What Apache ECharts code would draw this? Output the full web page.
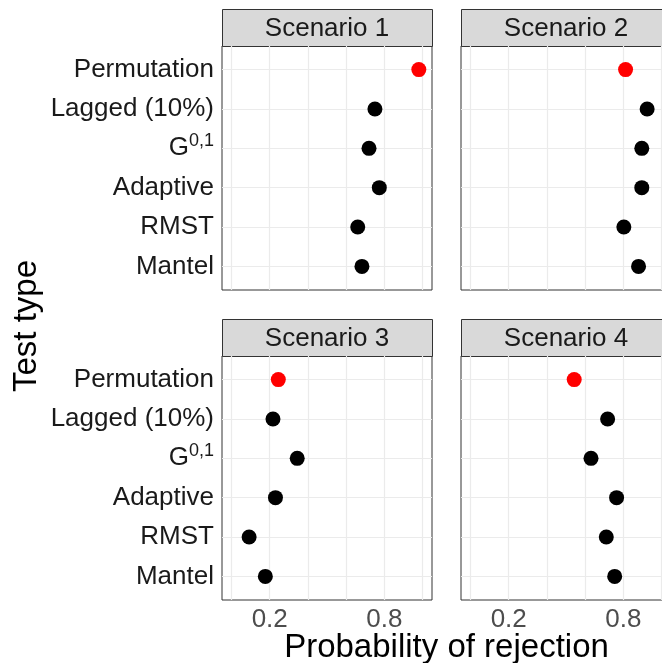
<!DOCTYPE html>
<html><head><meta charset="utf-8">
<script src="https://cdn.jsdelivr.net/npm/echarts@6/dist/echarts.min.js"></script>
<style>html,body{margin:0;padding:0;background:#fff}#c{width:662px;height:663px}</style>
</head><body><div id="c"></div>
<script>
// ---- data ----
const categories = ['Permutation', 'Lagged (10%)', 'G0,1', 'Adaptive', 'RMST', 'Mantel'];
const scenarios = ['Scenario 1', 'Scenario 2', 'Scenario 3', 'Scenario 4'];
const scenario1 = [0.981, 0.751, 0.720, 0.774, 0.661, 0.683];
const scenario2 = [0.812, 0.925, 0.897, 0.897, 0.803, 0.880];
const scenario3 = [0.245, 0.217, 0.344, 0.230, 0.092, 0.177];
const scenario4 = [0.543, 0.718, 0.631, 0.765, 0.711, 0.755];
const xTickLabels = [0.2, 0.8];
const xGridValues = [0, 0.2, 0.4, 0.6, 0.8, 1.0];
const xTitle = 'Probability of rejection';
const yTitle = 'Test type';

const values = [scenario1, scenario2, scenario3, scenario4];
const FONT = '"Liberation Sans", Arial, sans-serif';

// ---- layout ----
const L = [222, 461], T = [46, 356], W = 210, H = 244, SH = 37;
const grids = [], xAxes = [], yAxes = [], series = [], graphics = [];
const catIdx = categories.map((_, i) => i);

for (let p = 0; p < 4; p++) {
  const col = p % 2, row = Math.floor(p / 2);
  grids.push({ left: L[col], top: T[row], width: W, height: H, show: true,
    borderColor: '#333333', borderWidth: 1, backgroundColor: '#ffffff',
    containLabel: false, outerBoundsMode: 'none' });
  xAxes.push({ gridIndex: p, type: 'value', min: -0.05, max: 1.05,
    splitLine: { show: false }, axisLine: { show: false },
    axisTick: { show: row === 1, customValues: xTickLabels, length: 3, lineStyle: { color: '#333333' } },
    axisLabel: { show: row === 1, customValues: xTickLabels, fontSize: 26, color: '#4d4d4d',
      fontFamily: FONT, margin: 7, formatter: v => String(v) } });
  yAxes.push({ gridIndex: p, type: 'value', inverse: true, min: -0.6, max: 5.6,
    splitLine: { show: false }, axisLine: { show: false },
    axisTick: { show: col === 0, customValues: catIdx, length: 3, lineStyle: { color: '#333333' } },
    axisLabel: { show: col === 0, customValues: catIdx, fontSize: 26, color: '#1a1a1a', fontFamily: FONT, margin: 8,
      formatter: v => { const n = categories[Math.round(v)]; return n === 'G0,1' ? '{g|G}{s|0,1}' : n; },
      rich: { g: { fontSize: 26, color: '#1a1a1a', fontFamily: FONT },
              s: { fontSize: 18, color: '#1a1a1a', fontFamily: FONT, padding: [0, 0, 14, 0] } } } });
  // grid lines
  series.push({ type: 'scatter', xAxisIndex: p, yAxisIndex: p, data: [], silent: true,
    markLine: { silent: true, symbol: 'none', label: { show: false }, animation: false,
      lineStyle: { color: '#ebebeb', width: 1.2, type: 'solid' },
      data: xGridValues.map(v => ({ xAxis: v })).concat(catIdx.map(i => ({ yAxis: i }))) } });
  // points
  series.push({ type: 'scatter', xAxisIndex: p, yAxisIndex: p, z: 10, symbolSize: 15, animation: false,
    itemStyle: { opacity: 1 },
    data: values[p].map((v, i) => ({ value: [v, i], itemStyle: { color: i === 0 ? '#ff0000' : '#000000', opacity: 1 } })) });
  // strip
  graphics.push({ type: 'rect', shape: { x: L[col] + 0.5, y: T[row] - SH + 0.5, width: W, height: SH },
    style: { fill: '#d9d9d9', stroke: '#333333', lineWidth: 1 } });
  graphics.push({ type: 'text', x: L[col] + W / 2, y: T[row] - SH / 2 + 1,
    style: { text: scenarios[p], font: '26px ' + FONT, fill: '#1a1a1a', textAlign: 'center', textVerticalAlign: 'middle' } });
}
graphics.push({ type: 'text', x: (L[0] + L[1] + W) / 2, y: 648,
  style: { text: xTitle, font: '33px ' + FONT, fill: '#000000', textAlign: 'center', textVerticalAlign: 'middle' } });
graphics.push({ type: 'text', x: 27, y: 326, rotation: Math.PI / 2,
  style: { text: yTitle, font: '33px ' + FONT, fill: '#000000', textAlign: 'center', textVerticalAlign: 'middle' } });

const chart = echarts.init(document.getElementById('c'), null, { renderer: 'canvas' });
chart.setOption({ animation: false, backgroundColor: '#ffffff',
  grid: grids, xAxis: xAxes, yAxis: yAxes, series: series, graphic: graphics });
</script></body></html>
